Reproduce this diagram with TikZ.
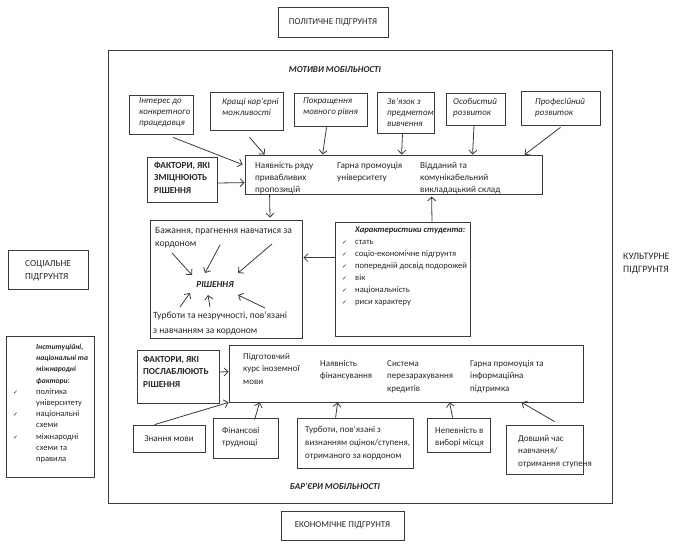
\documentclass[tikz,border=0pt]{standalone}
\usepackage{fontspec}
\setmainfont{Carlito}
\newfontfamily\dejavu{DejaVu Sans}
\usetikzlibrary{arrows.meta,fit,calc}
\definecolor{linec}{HTML}{3A3A3A}
\definecolor{txtc}{HTML}{262626}
\newcommand\chk{{\dejavu\fontsize{6}{6}\selectfont ✓}}
\newcommand\mk[2]{\makebox[#1][l]{#2}}
\newcommand\bi[1]{{\fontsize{7.6}{11}\selectfont\bfseries\itshape #1}}
\begin{document}
\begin{tikzpicture}[x=1pt,y=-1pt,
  boxst/.style={draw=linec, line width=0.8pt, inner sep=0pt, fit={#1}},
  txt/.style={inner sep=0pt, align=left, anchor=north west, text=txtc,
    font=\fontsize{9.2}{11.8}\selectfont, execute at begin node=\strut},
  itxt/.style={txt, font=\fontsize{9}{11}\selectfont\itshape},
  btxt/.style={txt, font=\fontsize{9.2}{12.3}\selectfont\bfseries},
  ltxt/.style={txt, font=\fontsize{9}{12.5}\selectfont},
  ctxt/.style={inner sep=0pt, align=center, text=txtc, font=\fontsize{9}{12}\selectfont},
  arr/.style={draw=linec, line width=0.8pt, -{Straight Barb[length=4pt,width=8pt]}},
]
\useasboundingbox (0,0) rectangle (682,546);

% context boxes
\node[boxst={(278,7) (388,37)}] (pol) {};
\node[ctxt] (polt) at (pol.center) {ПОЛІТИЧНЕ ПІДГРУНТЯ};
\node[boxst={(281,511) (404,540)}] (eco) {};
\node[ctxt] (ecot) at (eco.center) {ЕКОНОМІЧНЕ ПІДГРУНТЯ};
\node[boxst={(8,250) (88,289)}] (soc) {};
\node[txt, font=\fontsize{9.3}{13}\selectfont] (soct) at (25,260) {СОЦІАЛЬНЕ\\ПІДГРУНТЯ};
\node[txt, font=\fontsize{9.8}{13}\selectfont] (cult) at (623,253) {КУЛЬТУРНЕ\\ПІДГРУНТЯ};

\node[boxst={(6,336) (94,477)}] (inst) {};
\node[txt, font=\fontsize{8.5}{11.2}\selectfont] (instt) at (13,344) {%
\mk{23pt}{}\bi{Інституційні,}\\
\mk{23pt}{}\bi{національні та}\\
\mk{23pt}{}\bi{міжнародні}\\
\mk{23pt}{}\bi{фактори}:\\
\mk{23pt}{\chk}політика\\
\mk{23pt}{}університету\\
\mk{23pt}{\chk}національні\\
\mk{23pt}{}схеми\\
\mk{23pt}{\chk}міжнародні\\
\mk{23pt}{}схеми та\\
\mk{23pt}{}правила};

% main frame
\node[boxst={(108,50) (612,503)}] (frame) {};
\node[ctxt, font=\fontsize{9}{10}\selectfont\bfseries\itshape] (mot) at (335,70) {МОТИВИ МОБІЛЬНОСТІ};
\node[ctxt, font=\fontsize{9}{10}\selectfont\bfseries\itshape] (bar) at (335,486) {БАР’ЄРИ МОБІЛЬНОСТІ};

% motive boxes
\node[boxst={(129,95) (193,134)}] (m1) {};
\node[itxt] (m1t) at (139,98) {Інтерес до\\конкретного\\працедавця};
\node[boxst={(210,92) (283,130)}] (m2) {};
\node[itxt] (m2t) at (222,98) {Кращі кар’єрні\\можливості};
\node[boxst={(294,93) (367,126)}] (m3) {};
\node[itxt] (m3t) at (303,98) {Покращення\\мовного рівня};
\node[boxst={(377,92) (434,133)}] (m4) {};
\node[itxt] (m4t) at (387,98) {Зв’язок з\\предметом\\вивчення};
\node[boxst={(446,93) (505,125)}] (m5) {};
\node[itxt] (m5t) at (453,98) {Особистий\\розвиток};
\node[boxst={(521,91) (600,125)}] (m6) {};
\node[itxt] (m6t) at (535,98) {Професійний\\розвиток};

% central strengthening box
\node[boxst={(245,155) (542,194)}] (c) {};
\node[txt] (c1) at (255,162) {Наявність ряду\\привабливих\\пропозицій};
\node[txt] (c2) at (337,162) {Гарна промоуція\\університету};
\node[txt] (c3) at (420,162) {Відданий та\\комунікабельний\\викладацький склад};

\node[boxst={(147,157) (217,202)}] (s) {};
\node[btxt] (st) at (154,162) {ФАКТОРИ, ЯКІ\\ЗМІЦНЮЮТЬ\\РІШЕННЯ};

% decision box
\node[boxst={(150,220) (302,338)}] (d) {};
\node[txt, font=\fontsize{9.6}{13.5}\selectfont] (d1) at (155,227) {Бажання, прагнення навчатися за\\кордоном};
\node[inner sep=0pt, text=txtc, font=\fontsize{9.3}{11}\selectfont\bfseries\itshape] (rn) at (215,284) {РІШЕННЯ};
\node[txt, font=\fontsize{9.5}{14.5}\selectfont] (d2) at (153,312) {Турботи та незручності, пов’язані\\з навчанням за кордоном};

% characteristics box
\node[boxst={(335,222) (470,336)}] (ch) {};
\node[txt, font=\fontsize{8.6}{12}\selectfont] (cht) at (342,227) {%
\mk{13pt}{}\textbf{\textit{Характеристики студента:}}\\
\mk{13pt}{\chk}стать\\
\mk{13pt}{\chk}соціо-економічне підгрунтя\\
\mk{13pt}{\chk}попередній досвід подорожей\\
\mk{13pt}{\chk}вік\\
\mk{13pt}{\chk}національність\\
\mk{13pt}{\chk}риси характеру};

% weakening
\node[boxst={(137,350) (219,403)}] (w) {};
\node[btxt] (wt) at (143,356) {ФАКТОРИ, ЯКІ\\ПОСЛАБЛЮЮТЬ\\РІШЕННЯ};
\node[boxst={(229,345) (583,402)}] (l) {};
\node[ltxt] (l1) at (243,353) {Підготовчий\\курс іноземної\\мови};
\node[ltxt] (l2) at (320,360) {Наявність\\фінансування};
\node[ltxt] (l3) at (387,360) {Система\\перезарахування\\кредитів};
\node[ltxt] (l4) at (470,360) {Гарна промоуція та\\інформаційна\\підтримка};

% barriers
\node[boxst={(133,425) (205,452)}] (b1) {};
\node[ctxt] (b1t) at (b1.center) {Знання мови};
\node[boxst={(213,418) (278,458)}] (b2) {};
\node[ltxt] (b2t) at (222,427) {Фінансові\\труднощі};
\node[boxst={(297,418) (413,468)}] (b3) {};
\node[ltxt, font=\fontsize{9}{13}\selectfont] (b3t) at (305,426) {Турботи, пов’язані з\\визнанням оцінок/ступеня,\\отриманого за кордоном};
\node[boxst={(427,418) (490,452)}] (b4) {};
\node[ltxt] (b4t) at (435,427) {Непевність в\\виборі місця};
\node[boxst={(506,425) (583,474)}] (b5) {};
\node[ltxt] (b5t) at (518,435) {Довший час\\навчання/\\отримання ступеня};

% arrows: motives -> central
\draw[arr] ($(m1.south)+(12,3)$) -- ($(c.north west)+(-2,10)$);
\draw[arr] ($(m2.south)+(3,7)$) -- ($(c.north west)+(20,0)$);
\draw[arr] ($(m3.south)+(-4,1)$) -- ($(c.north west)+(78,0)$);
\draw[arr] ($(m4.south)+(-3,0)$) -- ($(c.north west)+(157,0)$);
\draw[arr] ($(m5.south)+(-1.5,0)$) -- ($(c.north west)+(228,0)$);
\draw[arr] ($(m6.south)+(0,2)$) -- ($(c.north west)+(280,0)$);
\draw[arr] ($(s.east)+(0,3.5)$) -- ($(c.north west)+(0,28)$);
\draw[arr] ($(c.south west)+(25,0)$) -- ($(d.north)+(44,-2)$);
\draw[arr] ($(ch.north)+(29.5,0)$) -- ($(c.south west)+(187,2)$);
\draw[arr] ($(ch.north west)+(0,36)$) -- ($(d.north east)+(1,38)$);

% inside decision
\coordinate (a1s) at (172,253); \coordinate (a1e) at (192,275);
\coordinate (a2s) at (220,245); \coordinate (a2e) at (205,273);
\coordinate (a3s) at (272,244); \coordinate (a3e) at (238,273);
\coordinate (a4s) at (180,307); \coordinate (a4e) at (190,293);
\coordinate (a5s) at (210,307); \coordinate (a5e) at (208,295);
\coordinate (a6s) at (265,308); \coordinate (a6e) at (238,295);
\foreach \i in {1,...,6} \draw[arr] (a\i s) -- (a\i e);

% weakening arrows
\draw[arr] ($(w.east)+(0,-4.5)$) -- ($(l.north west)+(0,27)$);
\draw[arr] ($(b1.north west)+(22,0)$) -- (l.south west);
\draw[arr] ($(b2.north west)+(42,2)$) -- ($(l.south west)+(31,0)$);
\draw[arr] ($(b3.north west)+(39,0)$) -- ($(l.south west)+(109,0)$);
\draw[arr] ($(b4.north west)+(26,0)$) -- ($(l.south west)+(221,0)$);
\draw[arr] ($(b5.north west)+(49,-3)$) -- ($(l.south west)+(293,0)$);
\end{tikzpicture}
\end{document}
